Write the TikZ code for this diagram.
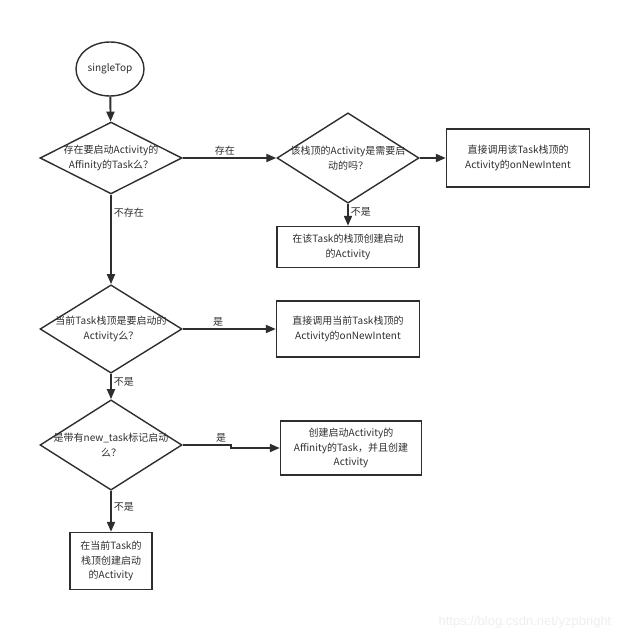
\documentclass[tikz,border=0pt]{standalone}
\usepackage{fontspec}
\setmainfont{Noto Sans CJK SC}
\newfontfamily\wmfont{Liberation Sans}
\usetikzlibrary{shapes.geometric,arrows.meta}
\definecolor{ink}{HTML}{2E2E2E}
\definecolor{wmgray}{HTML}{EEEEEE}
\begin{document}
\begin{tikzpicture}[x=1pt,y=-1pt,
                    mnode/.style = {shape = rectangle,
                                    color = ink,
                                    text = ink,
                                    line width = 1.4pt,
                                    inner sep = 0pt,
                                    align = center,
                                    font = \fontsize{10}{14.5}\selectfont,
                                    draw},
                    dnode/.style = {mnode, shape = diamond,
                                    minimum width = 142pt,
                                    minimum height = 66pt,
                                    inner xsep = -24pt},
                    arr/.style = {color = ink, line width = 1.9pt,
                                  -{Triangle[length=10pt,width=8pt]}},
                    lbl/.style = {text = ink, inner sep = 2pt,
                                  font = \fontsize{10}{12}\selectfont}]
		\useasboundingbox (0,0) rectangle (640,642);
		\node[mnode, shape = ellipse, minimum width = 68pt, minimum height = 54pt] (st) at (110,69) {singleTop};
		\node[dnode] (d1) at (111,158) {存在要启动Activity的\\Affinity的Task么？};
		\node[dnode] (d2) at (348,158) {该栈顶的Activity是需要启\\动的吗？};
		\node[mnode, minimum width = 143pt, minimum height = 58pt] (b1) at (518,158) {直接调用该Task栈顶的\\Activity的onNewIntent};
		\node[mnode, minimum width = 142pt, minimum height = 41pt] (b2) at (348,247) {在该Task的栈顶创建启动\\的Activity};
		\node[dnode, minimum height = 68pt] (d3) at (111,329) {当前Task栈顶是要启动的\\Activity么？};
		\node[mnode, minimum width = 143pt, minimum height = 56pt] (b3) at (348,329) {直接调用当前Task栈顶的\\Activity的onNewIntent};
		\node[dnode, minimum height = 64pt] (d4) at (111,445) {是带有new\_task标记启动\\么？};
		\node[mnode, minimum width = 141pt, minimum height = 54pt] (b4) at (351,448) {创建启动Activity的\\Affinity的Task，并且创建\\Activity};
		\node[mnode, minimum width = 82pt, minimum height = 57pt] (b5) at (111,561) {在当前Task的\\栈顶创建启动\\的Activity};
		\node[text = wmgray, font = \wmfont\fontsize{13}{15}\selectfont] (wm) at (525,622) {https://blog.csdn.net/yzpbright};
		% arrows
		\path (st) edge[arr] (d1);
		\path (d1) edge[arr] node[lbl, pos = 0.45, above] {存在} (d2);
		\path (d1) edge[arr] node[lbl, pos = 0.2, right] {不存在} (d3);
		\path (d2) edge[arr] (b1);
		\path (d2) edge[arr] node[lbl, pos = 0.35, right] {不是} (b2);
		\path (d3) edge[arr] node[lbl, pos = 0.38, above] {是} (b3);
		\path (d3) edge[arr] node[lbl, pos = 0.33, right] {不是} (d4);
		\draw[arr] (d4.east) -- node[lbl, pos = 0.8, above] {是} ++(48,0) |- (b4.west);
		\path (d4) edge[arr] node[lbl, pos = 0.4, right] {不是} (b5);
	\end{tikzpicture}
\end{document}
